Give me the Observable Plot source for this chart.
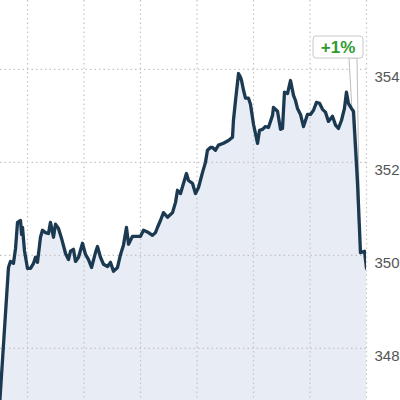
<!DOCTYPE html>
<html><head><meta charset="utf-8">
<script src="https://cdn.jsdelivr.net/npm/d3@7"></script>
<script src="https://cdn.jsdelivr.net/npm/@observablehq/plot@0.6"></script>
<style>html,body{margin:0;padding:0;background:#fff;overflow:hidden}</style>
</head><body><div id="chart"></div>
<script>
// minutes since 9:30 open
const minutes = [0, 9.8, 11.9, 15.1, 17.3, 19.4, 22.6, 23.7, 24.7, 26.8, 30, 33.2, 36.4, 38.5, 40.6, 43.8, 45.9, 49.1, 52.3, 54.4, 57.6, 59.7, 62.9, 66.1, 70.4, 73.5, 75.7, 78.8, 81.0, 84.2, 88.4, 91.6, 94.8, 98.0, 102.2, 104.3, 107.5, 110.7, 115.0, 118.1, 121.3, 125.6, 128.8, 131.9, 135.1, 137.3, 141.5, 146.8, 150.0, 153.2, 158.5, 162.7, 165.9, 168.0, 171.2, 174.4, 178.7, 184.0, 187.2, 189.3, 192.5, 195.7, 198.8, 201.0, 205.2, 208.4, 211.6, 215.8, 219.0, 221.1, 224.3, 226.5, 229.6, 232.8, 238.1, 243.4, 247.7, 248.7, 250.9, 254.1, 256.2, 257.3, 259.4, 261.5, 264.7, 266.8, 270.0, 274.3, 276.4, 279.6, 282.7, 285.9, 290.2, 291.2, 295.5, 298.7, 300.8, 302.9, 306.1, 309.3, 312.5, 314.6, 316.7, 319.9, 323.1, 327.3, 330.5, 333.7, 336.9, 340.1, 343.3, 346.4, 349.6, 353.9, 357.1, 360.2, 363.4, 366.6, 368.7, 370.8, 374.0, 376.2, 380.4, 383.6, 387.9, 390.0];
const prices = [346.67, 349.74, 349.87, 349.83, 350.15, 350.71, 350.75, 350.45, 350.60, 350.10, 349.72, 349.72, 349.83, 349.96, 349.85, 350.39, 350.54, 350.49, 350.47, 350.71, 350.39, 350.67, 350.58, 350.37, 350.04, 349.91, 350.09, 350.13, 349.87, 349.96, 350.26, 350.02, 349.91, 349.74, 350.06, 350.19, 349.96, 349.81, 349.76, 349.85, 349.66, 349.74, 350.02, 350.22, 350.60, 350.24, 350.41, 350.41, 350.41, 350.54, 350.49, 350.43, 350.49, 350.60, 350.75, 350.92, 350.82, 350.92, 351.14, 351.40, 351.33, 351.55, 351.76, 351.61, 351.55, 351.33, 351.46, 351.78, 352.00, 352.26, 352.32, 352.32, 352.26, 352.37, 352.41, 352.47, 352.54, 352.90, 353.33, 353.91, 353.83, 353.76, 353.55, 353.38, 353.38, 353.25, 352.82, 352.41, 352.69, 352.71, 352.77, 352.75, 353.01, 353.18, 353.10, 352.71, 352.73, 353.51, 353.48, 353.76, 353.44, 353.33, 353.16, 353.03, 352.77, 353.03, 353.03, 353.12, 353.29, 353.27, 353.14, 353.08, 352.88, 352.99, 352.80, 352.73, 352.90, 353.16, 353.51, 353.27, 353.16, 353.10, 351.61, 350.06, 350.09, 349.72];
const priceTicks = [348, 350, 352, 354];
const hourTicks = [30, 90, 150, 210, 270, 330, 390];
const changeLabel = "+1%";

const data = minutes.map((t, i) => ({t, p: prices[i]}));
const yMin = 346.88, yMax = 355.48;

const chart = Plot.plot({
  width: 400, height: 400,
  marginLeft: 0, marginRight: 34, marginTop: 0, marginBottom: 0,
  style: {background: "#fff", fontFamily: "'Liberation Sans', Arial, sans-serif"},
  x: {domain: [1.33, 390], axis: null},
  y: {domain: [yMin, yMax]},
  marks: [
    Plot.areaY(data, {x: "t", y1: 340, y2: "p", fill: "#e8ecf4", clip: true}),
    Plot.ruleX(hourTicks, {stroke: "#c4c4c4", strokeDasharray: "1.5,3", strokeWidth: 1.2}),
    Plot.ruleY(priceTicks, {stroke: "#c4c4c4", strokeDasharray: "1.5,3", strokeWidth: 1.2}),
    Plot.line(data, {x: "t", y: "p", stroke: "#1b3a52", strokeWidth: 3.3, clip: true, strokeLinejoin: "round"}),
    Plot.axisY(priceTicks, {anchor: "right", tickSize: 0, tickPadding: 8, dy: 8, fontSize: 15, fill: "#555", label: null})
  ]
});
document.getElementById("chart").appendChild(chart);

// callout anchored to the last data point
const ns = "http://www.w3.org/2000/svg";
const xs = chart.scale("x"), ys = chart.scale("y");
const last = data[data.length - 1];
const px = xs.apply(last.t), py = ys.apply(last.p);
const g = document.createElementNS(ns, "g");
const poly = document.createElementNS(ns, "polygon");
const bx = px - 53, bw = 50, by = 36, bh = 22;
poly.setAttribute("points", `${px-17},${by+bh} ${px-9},${by+bh} ${px-6},${py-16}`);
poly.setAttribute("fill", "#fff");
poly.setAttribute("stroke", "#bdbdbd");
poly.setAttribute("stroke-width", "1");
g.appendChild(poly);
const rect = document.createElementNS(ns, "rect");
rect.setAttribute("x", bx); rect.setAttribute("y", by);
rect.setAttribute("width", bw); rect.setAttribute("height", bh);
rect.setAttribute("rx", 3);
rect.setAttribute("fill", "#fff"); rect.setAttribute("stroke", "#c8c8c8");
g.appendChild(rect);
const txt = document.createElementNS(ns, "text");
txt.setAttribute("x", bx + bw / 2); txt.setAttribute("y", by + bh / 2);
txt.setAttribute("dy", "0.36em");
txt.setAttribute("text-anchor", "middle");
txt.setAttribute("font-size", 17); txt.setAttribute("font-weight", "bold");
txt.setAttribute("fill", "#2f9a2f");
txt.textContent = changeLabel;
g.appendChild(txt);
const lineG = chart.querySelector('g[aria-label="line"]');
chart.insertBefore(g, lineG);
</script>
</body></html>
